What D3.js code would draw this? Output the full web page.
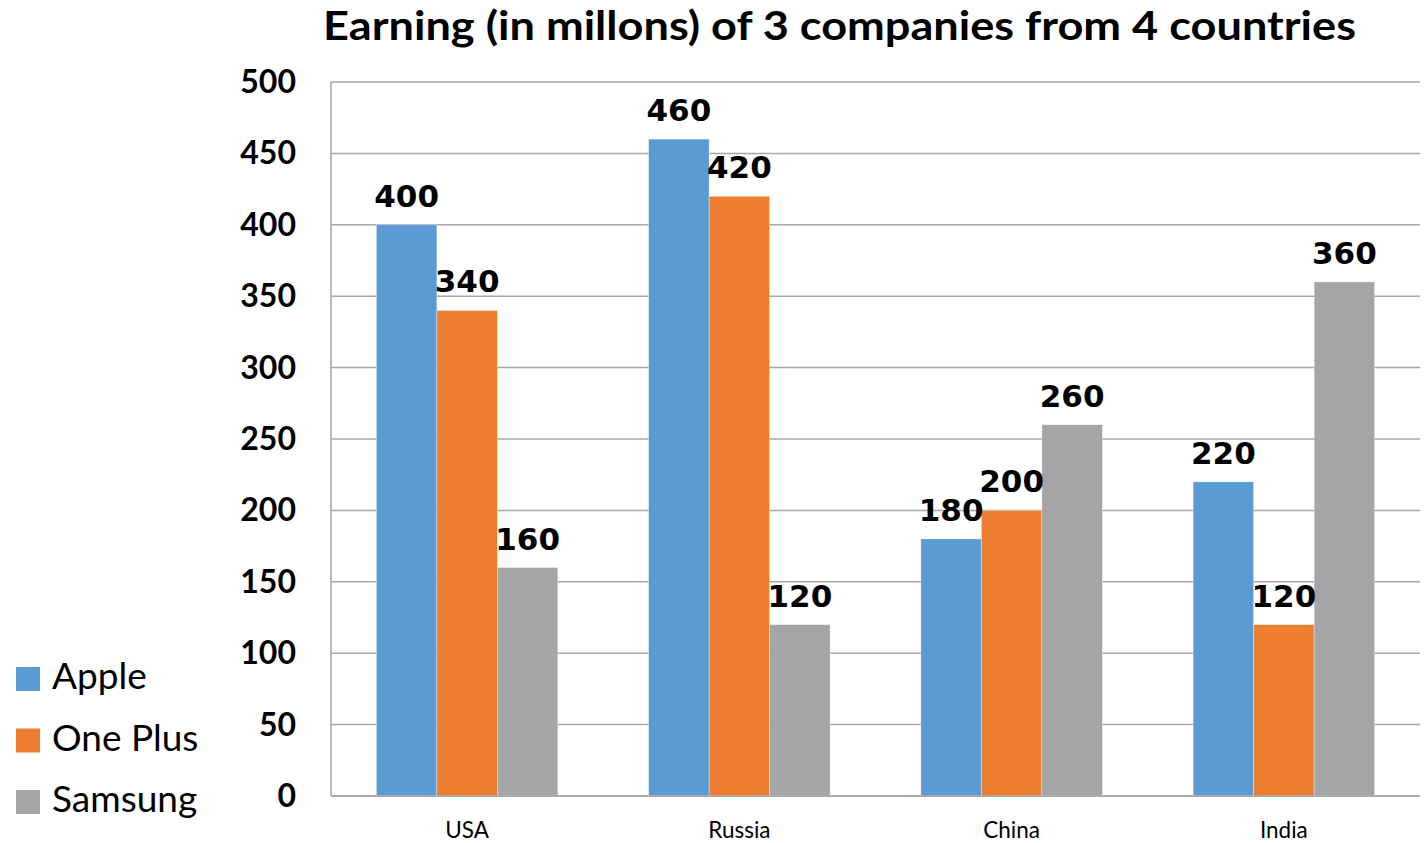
<!DOCTYPE html>
<html>
<head>
<meta charset="utf-8">
<script src="https://cdn.jsdelivr.net/npm/d3@7"></script>
<style>
  html, body { margin: 0; padding: 0; background: #fff; }
  svg { display: block; }
</style>
</head>
<body>
<svg id="chart" width="1426" height="843"></svg>
<script>
const countries = ["USA", "Russia", "China", "India"];
const seriesNames = ["Apple", "One Plus", "Samsung"];
const apple = [400, 460, 180, 220];
const onePlus = [340, 420, 200, 120];
const samsung = [160, 120, 260, 360];
const yTicks = [0, 50, 100, 150, 200, 250, 300, 350, 400, 450, 500];
const colors = ["#5b9bd5", "#ed7d31", "#a5a5a5"];
const titleText = "Earning (in millons) of 3 companies from 4 countries";

const seriesValues = [apple, onePlus, samsung];
const data = countries.map((c, i) => ({
  country: c,
  values: seriesNames.map((s, j) => ({ series: s, value: seriesValues[j][i], color: colors[j] }))
}));

const svg = d3.select("#chart");
const plot = { left: 331, right: 1420, top: 82, bottom: 796 };

const x0 = d3.scaleBand().domain(countries).range([plot.left, plot.right]).padding(0);
const x1 = d3.scaleBand().domain(seriesNames).range([0, x0.bandwidth()]).paddingInner(0).paddingOuter(0.75);
const y = d3.scaleLinear().domain([0, 500]).range([plot.bottom, plot.top]);

// gridlines
svg.append("g").selectAll("line").data(yTicks).join("line")
  .attr("x1", plot.left).attr("x2", plot.right)
  .attr("y1", d => y(d)).attr("y2", d => y(d))
  .attr("stroke", "#a6a6a6").attr("stroke-width", 1.5);

// left axis line
svg.append("line")
  .attr("x1", plot.left).attr("x2", plot.left)
  .attr("y1", plot.top).attr("y2", plot.bottom)
  .attr("stroke", "#a6a6a6").attr("stroke-width", 1.5);

// y axis labels
const yAxis = d3.axisLeft(y).tickValues(yTicks).tickSize(0).tickPadding(0);
const yg = svg.append("g").attr("transform", `translate(296,0)`).call(yAxis);
yg.select(".domain").remove();
yg.selectAll("text")
  .attr("x", 0).attr("dy", null).attr("y", 10.5)
  .attr("text-anchor", "end")
  .attr("font-family", "Lato, 'Open Sans', sans-serif")
  .attr("font-weight", 700)
  .attr("font-size", 32)
  .attr("fill", "#000");

// bars
const groups = svg.append("g").selectAll("g").data(data).join("g")
  .attr("transform", d => `translate(${x0(d.country)},0)`);

groups.selectAll("rect").data(d => d.values).join("rect")
  .attr("x", d => x1(d.series))
  .attr("width", x1.bandwidth())
  .attr("y", d => y(d.value))
  .attr("height", d => y(0) - y(d.value))
  .attr("fill", d => d.color)
  .attr("stroke", "#ffffff").attr("stroke-width", 0.6).attr("stroke-opacity", 0.6);

// bottom axis line
svg.append("line")
  .attr("x1", plot.left).attr("x2", plot.right)
  .attr("y1", plot.bottom).attr("y2", plot.bottom)
  .attr("stroke", "#a6a6a6").attr("stroke-width", 1.5);

// data labels
groups.selectAll("text.lbl").data(d => d.values).join("text")
  .attr("class", "lbl")
  .attr("x", d => x1(d.series) + x1.bandwidth() / 2)
  .attr("y", d => y(d.value) - 18)
  .attr("text-anchor", "middle")
  .attr("font-family", "'DejaVu Sans', sans-serif")
  .attr("font-weight", 700)
  .attr("font-size", 31)
  .attr("fill", "#000")
  .text(d => d.value);

// x axis labels
const xAxis = d3.axisBottom(x0).tickSize(0).tickPadding(0);
const xg = svg.append("g").call(xAxis);
xg.select(".domain").remove();
xg.selectAll("text")
  .attr("y", 838).attr("dy", null)
  .attr("font-family", "Lato, 'Open Sans', sans-serif")
  .attr("font-size", 22.5)
  .attr("fill", "#000");

// title
svg.append("text")
  .attr("x", 839.5).attr("y", 40)
  .attr("text-anchor", "middle")
  .attr("font-family", "Lato, 'Open Sans', sans-serif")
  .attr("font-weight", 700)
  .attr("font-size", 40)
  .attr("textLength", 1033)
  .attr("lengthAdjust", "spacingAndGlyphs")
  .attr("fill", "#000")
  .text(titleText);

// legend
const legend = svg.append("g").selectAll("g").data(seriesNames).join("g")
  .attr("transform", (d, i) => `translate(16, ${667 + i * 61.5})`);
legend.append("rect")
  .attr("width", 24).attr("height", 24)
  .attr("fill", (d, i) => colors[i]);
legend.append("text")
  .attr("x", 36).attr("y", 22)
  .attr("font-family", "Lato, 'Open Sans', sans-serif")
  .attr("font-size", 37)
  .attr("fill", "#000")
  .text(d => d);
</script>
</body>
</html>
